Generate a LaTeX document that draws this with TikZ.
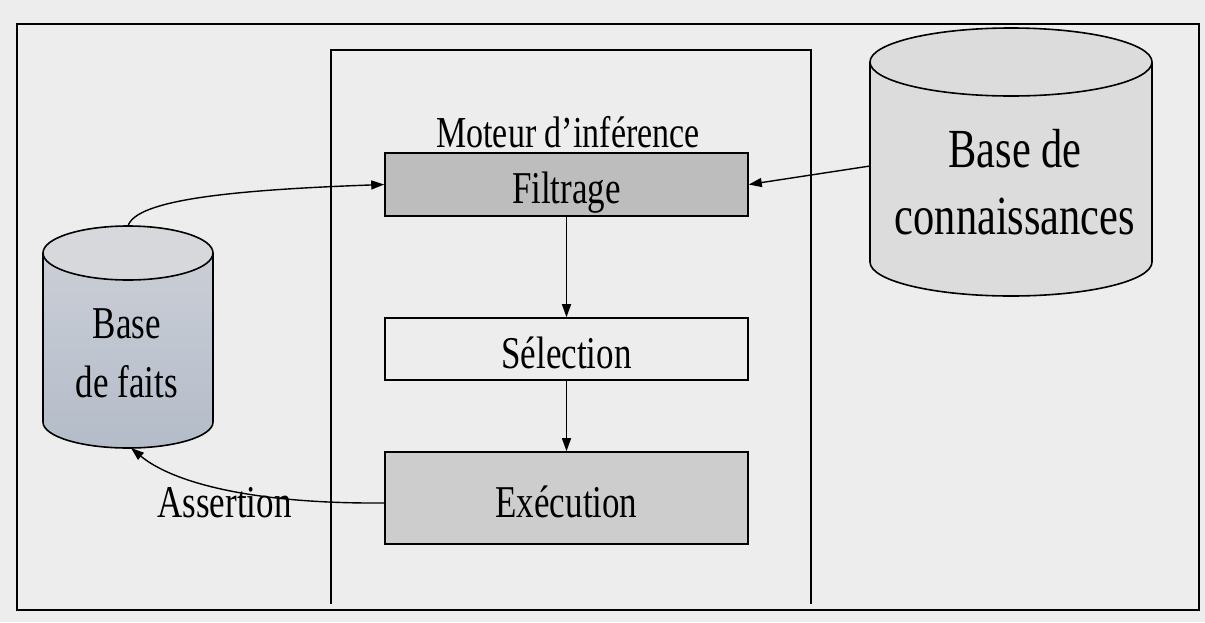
\documentclass[tikz,border=0pt]{standalone}
\usepackage{fontspec}
\setmainfont{Liberation Serif}
\usetikzlibrary{arrows.meta}

\definecolor{paper}{HTML}{EDEDED}
\definecolor{filtergray}{HTML}{BDBDBD}
\definecolor{execgray}{HTML}{CDCDCD}
\definecolor{kbgray}{HTML}{DCDCDC}
\definecolor{factstop}{HTML}{D6D8DB}
\definecolor{factshi}{HTML}{CDD1D8}
\definecolor{factslo}{HTML}{B4BCC9}

% tall, narrow lettering
\newcommand{\tallText}[1]{\scalebox{1}[1.3]{#1}}

\begin{document}
\begin{tikzpicture}[x=1pt,y=-1pt,
  frame/.style={line width=1.8pt},
  stage/.style={draw, line width=1.6pt, minimum width=363pt, inner sep=0pt,
    text height=38pt, text depth=0pt, font=\fontsize{35}{42}\selectfont},
  caption/.style={inner sep=0pt, anchor=base},
  link/.style={line width=1.4pt, -{Triangle[length=13pt,width=9pt]}},
  cyl/.style={line width=1.6pt}
]
% page and outer frame
\fill[paper] (0,0) rectangle (1205,622);
\useasboundingbox (0,0) rectangle (1205,622);
\draw[frame] (17,24) rectangle (1199,610);

% inference engine frame (open at the bottom)
\draw[line width=1.5pt] (331,604) -- (331,50) -- (811,50) -- (811,604);
\node[caption, font=\fontsize{34}{40}\selectfont] (engine) at (568,147)
  {\tallText{Moteur d’inférence}};

% engine stages, stacked on one axis
\node[stage, fill=filtergray, minimum height=63pt] (filtrage) at (566.5,184.5)
  {\tallText{Filtrage}};
\node[stage, fill=paper, minimum height=62pt] (selection) at (566.5,349)
  {\tallText{Sélection}};
\node[stage, fill=execgray, minimum height=92pt] (execution) at (566.5,498)
  {\tallText{Exécution}};

% fact base cylinder
\shade[top color=factshi, bottom color=factslo]
  (43,253) -- (43,422) arc[start angle=180, end angle=360, x radius=85pt, y radius=26pt]
  -- (213,253) arc[start angle=0, end angle=180, x radius=85pt, y radius=27pt] -- cycle;
\draw[cyl] (43,253) -- (43,422) arc[start angle=180, end angle=360, x radius=85pt, y radius=26pt]
  -- (213,253);
\draw[cyl, fill=factstop] (128,253) ellipse [x radius=85pt, y radius=27pt];
\coordinate (facts top) at (128,226);
\coordinate (facts bottom) at (131,448);
\node[caption, font=\fontsize{35}{45.4}\selectfont] (facts) at (127,338)
  {\tallText{\begin{tabular}[t]{@{}c@{}}Base\\de faits\end{tabular}}};

% knowledge base cylinder
\fill[kbgray]
  (870,62) -- (870,262) arc[start angle=180, end angle=360, x radius=141pt, y radius=34pt]
  -- (1152,62) arc[start angle=0, end angle=180, x radius=141pt, y radius=34pt] -- cycle;
\draw[cyl] (870,62) -- (870,262) arc[start angle=180, end angle=360, x radius=141pt, y radius=34pt]
  -- (1152,62);
\draw[cyl, fill=kbgray] (1011,62) ellipse [x radius=141pt, y radius=34pt];
\coordinate (kb side) at (870,166);
\node[caption, font=\fontsize{42.4}{52.3}\selectfont] (kb) at (1015,167)
  {\tallText{\begin{tabular}[t]{@{}c@{}}Base de\\connaissances\end{tabular}}};

% connectors
\draw[link] (facts top) .. controls (136,200) and (230,190) .. (filtrage.west);
\draw[link] (kb side) -- (filtrage.east);
\draw[link] (filtrage.south) -- (selection.north);
\draw[link] (selection.south) -- (execution.north);
\draw[link] ([yshift=-5pt]execution.west) .. controls (250,504) and (172,482) .. (facts bottom);
\node[caption, font=\fontsize{35}{42}\selectfont] (assertion) at (224.5,517)
  {\tallText{Assertion}};
\end{tikzpicture}
\end{document}
